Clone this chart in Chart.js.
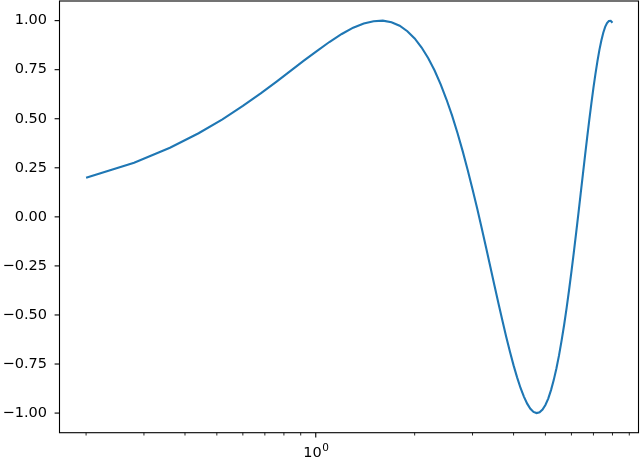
<!DOCTYPE html>
<html>
<head>
<meta charset="utf-8">
<script src="https://cdn.jsdelivr.net/npm/chart.js@4/dist/chart.umd.min.js"></script>
<style>
  html, body { margin: 0; padding: 0; background: #fff; }
  #wrap { width: 640px; height: 458px; }
</style>
</head>
<body>
<div id="wrap"><canvas id="chart" width="640" height="458"></canvas></div>
<script>
// x values and y values
const xs = [0.2, 0.28, 0.36, 0.44, 0.52, 0.6, 0.68, 0.76, 0.84, 0.92, 1.0,
  1.1, 1.2, 1.3, 1.4, 1.5, 1.6, 1.7, 1.8, 1.9, 2.0,
  2.1, 2.2, 2.3, 2.4, 2.5, 2.6, 2.7, 2.8, 2.9, 3.0,
  3.1, 3.2, 3.3, 3.4, 3.5, 3.6, 3.7, 3.8, 3.9, 4.0,
  4.1, 4.2, 4.3, 4.4, 4.5, 4.6, 4.7, 4.8, 4.9, 5.0,
  5.1, 5.2, 5.3, 5.4, 5.5, 5.6, 5.7, 5.8, 5.9, 6.0,
  6.1, 6.2, 6.3, 6.4, 6.5, 6.6, 6.7, 6.8, 6.9, 7.0,
  7.1, 7.2, 7.3, 7.4, 7.5, 7.6, 7.7, 7.8, 7.9, 8.0];
const ys = [0.199, 0.276, 0.352, 0.426, 0.497, 0.565, 0.629, 0.689, 0.745, 0.796, 0.841,
  0.891, 0.932, 0.964, 0.985, 0.997, 1.000, 0.992, 0.974, 0.946, 0.909,
  0.863, 0.808, 0.746, 0.675, 0.598, 0.516, 0.427, 0.335, 0.239, 0.141,
  0.042, -0.058, -0.158, -0.256, -0.351, -0.443, -0.530, -0.612, -0.688, -0.757,
  -0.818, -0.872, -0.916, -0.952, -0.978, -0.994, -1.000, -0.996, -0.982, -0.959,
  -0.926, -0.883, -0.832, -0.773, -0.706, -0.631, -0.551, -0.465, -0.374, -0.279,
  -0.182, -0.083, 0.017, 0.117, 0.215, 0.312, 0.405, 0.494, 0.578, 0.657,
  0.729, 0.794, 0.851, 0.899, 0.938, 0.968, 0.988, 0.998, 0.999, 0.989];

// tick positions
const xTicks = [0.2, 0.3, 0.4, 0.5, 0.6, 0.7, 0.8, 0.9, 1, 2, 3, 4, 5, 6, 7, 8, 9];
const xMajor = [1];
const yTicks = [-1.0, -0.75, -0.5, -0.25, 0, 0.25, 0.5, 0.75, 1.0];

Chart.defaults.font.family = 'DejaVu Sans';
Chart.defaults.font.size = 14.5;
Chart.defaults.color = '#000';

// matplotlib style frame + tick marks + the 10^0 label
const frameTicks = {
  id: 'frameTicks',
  afterDraw(chart) {
    const ctx = chart.ctx;
    const a = chart.chartArea;
    const sx = chart.scales.x, sy = chart.scales.y;
    ctx.save();
    ctx.strokeStyle = '#000';
    ctx.lineWidth = 1.1;
    ctx.strokeRect(a.left, a.top, a.right - a.left, a.bottom - a.top);
    sx.ticks.forEach(t => {
      const major = xMajor.includes(t.value);
      const px = sx.getPixelForValue(t.value);
      ctx.lineWidth = major ? 1.1 : 0.85;
      ctx.beginPath();
      ctx.moveTo(px, a.bottom);
      ctx.lineTo(px, a.bottom + (major ? 4.9 : 2.8));
      ctx.stroke();
    });
    ctx.lineWidth = 1.1;
    sy.ticks.forEach(t => {
      const py = sy.getPixelForValue(t.value);
      ctx.beginPath();
      ctx.moveTo(a.left, py);
      ctx.lineTo(a.left - 4.9, py);
      ctx.stroke();
    });
    // major x labels as base + superscript exponent
    ctx.fillStyle = '#000';
    ctx.textBaseline = 'alphabetic';
    ctx.textAlign = 'left';
    xMajor.forEach(v => {
      const px = sx.getPixelForValue(v);
      const base = '10', exp = String(Math.round(Math.log10(v)));
      ctx.font = '14.5px "DejaVu Sans"';
      const wb = ctx.measureText(base).width;
      ctx.font = '10.5px "DejaVu Sans"';
      const we = ctx.measureText(exp).width;
      const x0 = px - (wb + we) / 2;
      const yb = a.bottom + 24;
      ctx.font = '14.5px "DejaVu Sans"';
      ctx.fillText(base, x0, yb);
      ctx.font = '10.5px "DejaVu Sans"';
      ctx.fillText(exp, x0 + wb + 0.5, yb - 5.5);
    });
    ctx.restore();
  }
};

new Chart(document.getElementById('chart').getContext('2d'), {
  type: 'line',
  data: {
    datasets: [{
      data: xs.map((x, i) => ({ x: x, y: ys[i] })),
      borderColor: '#1f77b4',
      borderWidth: 2.1,
      pointRadius: 0,
      tension: 0,
      fill: false
    }]
  },
  options: {
    responsive: false,
    animation: false,
    events: [],
    layout: { padding: { top: 1, right: 1.5, left: 0, bottom: 0 } },
    plugins: { legend: { display: false }, tooltip: { enabled: false } },
    scales: {
      x: {
        type: 'logarithmic',
        min: 0.166,
        max: 9.6,
        grid: { display: false, drawTicks: false },
        border: { display: false },
        afterBuildTicks: s => { s.ticks = xTicks.map(v => ({ value: v })); },
        afterFit: s => { s.height = 25.3; s.paddingLeft = 0; s.paddingRight = 0; },
        ticks: {
          autoSkip: false,
          maxRotation: 0,
          display: false
        }
      },
      y: {
        min: -1.1,
        max: 1.1,
        grid: { display: false, drawTicks: false },
        border: { display: false },
        afterBuildTicks: s => { s.ticks = yTicks.map(v => ({ value: v })); },
        afterFit: s => { s.width = 59.5; s.paddingTop = 0; s.paddingBottom = 0; },
        ticks: {
          padding: 12.5,
          callback: v => v.toFixed(2).replace('-', '\u2212')
        }
      }
    }
  },
  plugins: [frameTicks]
});
</script>
</body>
</html>
